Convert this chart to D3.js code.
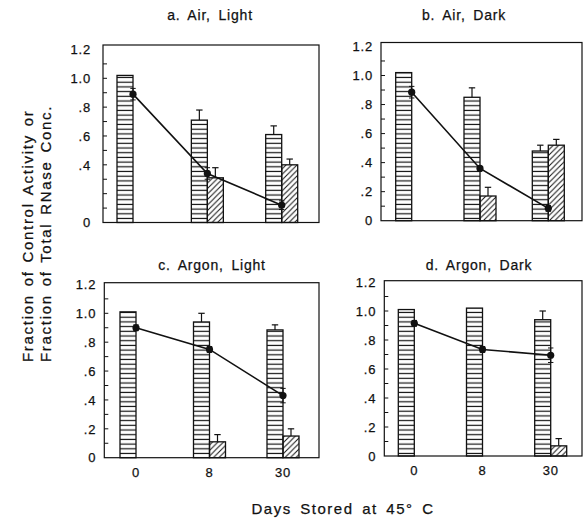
<!DOCTYPE html>
<html>
<head>
<meta charset="utf-8">
<script src="https://cdn.jsdelivr.net/npm/d3@7"></script>
<style>
  body { margin: 0; background: #fff; }
  svg { display: block; }
  text { font-family: "Liberation Sans", Arial, sans-serif; fill: #111; stroke: #111; stroke-width: 0.25px; }
</style>
</head>
<body>
<svg width="584" height="526"></svg>
<script>
// DATA

var days = ["0", "8", "30"];

var panelTitles = ["a. Air, Light", "b. Air, Dark", "c. Argon, Light", "d. Argon, Dark"];

// control activity (horizontal stripes)
var activityA = [1.02, 0.71, 0.61];
var activityB = [1.02, 0.85, 0.48];
var activityC = [1.01, 0.94, 0.885];
var activityD = [1.01, 1.02, 0.94];
var activityErrA = [0, 0.07, 0.06];
var activityErrB = [0, 0.065, 0.04];
var activityErrC = [0, 0.06, 0.035];
var activityErrD = [0, 0, 0.06];

// second activity series (diagonal hatch)
var hatchA = [0, 0.31, 0.40];
var hatchB = [0, 0.17, 0.52];
var hatchC = [0, 0.11, 0.15];
var hatchD = [0, 0, 0.07];
var hatchErrA = [0, 0.07, 0.04];
var hatchErrB = [0, 0.06, 0.04];
var hatchErrC = [0, 0.05, 0.05];
var hatchErrD = [0, 0, 0.05];

// total RNase conc. (dots + line)
var rnaseA = [0.89, 0.34, 0.12];
var rnaseB = [0.885, 0.36, 0.085];
var rnaseC = [0.90, 0.75, 0.43];
var rnaseD = [0.915, 0.735, 0.695];
var rnaseErrA = [0.04, 0.04, 0.03];
var rnaseErrB = [0.04, 0, 0.02];
var rnaseErrC = [0.02, 0.02, 0.05];
var rnaseErrD = [0.02, 0.02, 0.05];

var yTickValues = [0, 0.2, 0.4, 0.6, 0.8, 1.0, 1.2];
var yTickLabels = ["0", ".2", ".4", ".6", ".8", "1.0", "1.2"];
var yTickLabelsA = ["0", "", ".4", ".6", ".8", "1.0", "1.2"];

var yTitle1 = "Fraction of Control Activity or";
var yTitle2 = "Fraction of Total RNase Conc.";
var xTitle = "Days Stored at 45\u00B0 C";

// LAYOUT

var layout = [
  { left: 103,   right: 319, top: 45,    y0: 222.5, y1: 78.3,  x0: 133,   x1: 281.7, tx: 210, ty: 20,  gap: 12, xLabels: false },
  { left: 381,   right: 582, top: 42.5,  y0: 220.7, y1: 75.5,  x0: 411.7, x1: 548.3, tx: 464, ty: 20,  gap: 8,  xLabels: false },
  { left: 104.3, right: 319, top: 282.7, y0: 457.7, y1: 313.3, x0: 136,   x1: 283,   tx: 212, ty: 270, gap: 8,  xLabels: true },
  { left: 384.3, right: 582, top: 280.7, y0: 456,   y1: 311,   x0: 414.3, x1: 550.7, tx: 479, ty: 270, gap: 8,  xLabels: true }
];

var panelData = [
  { act: activityA, actErr: activityErrA, hat: hatchA, hatErr: hatchErrA, rna: rnaseA, rnaErr: rnaseErrA, ticks: yTickLabelsA },
  { act: activityB, actErr: activityErrB, hat: hatchB, hatErr: hatchErrB, rna: rnaseB, rnaErr: rnaseErrB, ticks: yTickLabels },
  { act: activityC, actErr: activityErrC, hat: hatchC, hatErr: hatchErrC, rna: rnaseC, rnaErr: rnaseErrC, ticks: yTickLabels },
  { act: activityD, actErr: activityErrD, hat: hatchD, hatErr: hatchErrD, rna: rnaseD, rnaErr: rnaseErrD, ticks: yTickLabels }
];

var barW = 16, capW = 3.2;

var svg = d3.select("svg");

// PATTERNS

var defs = svg.append("defs");

defs.append("pattern")
    .attr("id", "stripes")
    .attr("patternUnits", "userSpaceOnUse")
    .attr("width", 8).attr("height", 4.7)
  .append("line")
    .attr("x1", 0).attr("x2", 8)
    .attr("y1", 2.3).attr("y2", 2.3)
    .attr("stroke", "#111").attr("stroke-width", 1.2);

defs.append("pattern")
    .attr("id", "hatch")
    .attr("patternUnits", "userSpaceOnUse")
    .attr("width", 5.5).attr("height", 5.5)
  .append("path")
    .attr("d", "M-1,1 l2,-2 M0,5.5 l5.5,-5.5 M4.5,6.5 l2,-2")
    .attr("stroke", "#111").attr("stroke-width", 1);

// PANELS

panelData.forEach(function(pd, i) {
  var L = layout[i];

  var y = d3.scaleLinear().domain([0, 1]).range([L.y0, L.y1]);
  var x = d3.scalePoint().domain(days).range([L.x0, L.x1]);

  var g = svg.append("g").attr("class", "panel");

  // frame
  g.append("rect")
      .attr("x", L.left).attr("y", L.top)
      .attr("width", L.right - L.left).attr("height", L.y0 - L.top)
      .attr("fill", "none").attr("stroke", "#111").attr("stroke-width", 1.2);

  // minor inward ticks every .1
  g.selectAll("line.ytick")
    .data(d3.range(1, 12).map(function(k) { return k / 10; }))
    .enter().append("line")
      .attr("class", "ytick")
      .attr("x1", L.left).attr("x2", L.left + 4)
      .attr("y1", function(d) { return y(d); })
      .attr("y2", function(d) { return y(d); })
      .attr("stroke", "#111").attr("stroke-width", 1);

  // tick labels
  g.selectAll("text.ylab")
    .data(yTickValues)
    .enter().append("text")
      .attr("class", "ylab")
      .attr("x", L.left - L.gap)
      .attr("y", function(d) { return y(d); })
      .attr("dy", "0.36em")
      .attr("text-anchor", "end")
      .style("font-size", "13px")
      .style("letter-spacing", "0.8px")
      .text(function(d, k) { return pd.ticks[k]; });

  // title
  g.append("text")
      .attr("x", L.tx).attr("y", L.ty)
      .attr("text-anchor", "middle")
      .style("font-size", "14px")
      .style("letter-spacing", "0.8px")
      .style("word-spacing", "3px")
      .text(panelTitles[i]);

  // striped bars
  g.selectAll("rect.act")
    .data(pd.act)
    .enter().append("rect")
      .attr("class", "act")
      .attr("x", function(d, k) { return x(days[k]) - barW; })
      .attr("y", function(d) { return y(d); })
      .attr("width", barW)
      .attr("height", function(d) { return L.y0 - y(d); })
      .attr("fill", "url(#stripes)")
      .attr("stroke", "#111").attr("stroke-width", 1.3);

  // hatched bars
  g.selectAll("rect.hat")
    .data(pd.hat.map(function(d, k) { return { v: d, k: k }; })
                .filter(function(d) { return d.v > 0; }))
    .enter().append("rect")
      .attr("class", "hat")
      .attr("x", function(d) { return x(days[d.k]); })
      .attr("y", function(d) { return y(d.v); })
      .attr("width", barW)
      .attr("height", function(d) { return L.y0 - y(d.v); })
      .attr("fill", "url(#hatch)")
      .attr("stroke", "#111").attr("stroke-width", 1.3);

  // error bars (upward only) on bars
  function upErr(vals, errs, offset) {
    vals.forEach(function(v, k) {
      if (!errs[k] || v <= 0) return;
      var cx = x(days[k]) + offset;
      g.append("line")
          .attr("x1", cx).attr("x2", cx)
          .attr("y1", y(v)).attr("y2", y(v + errs[k]))
          .attr("stroke", "#111").attr("stroke-width", 1.2);
      g.append("line")
          .attr("x1", cx - capW).attr("x2", cx + capW)
          .attr("y1", y(v + errs[k])).attr("y2", y(v + errs[k]))
          .attr("stroke", "#111").attr("stroke-width", 1.2);
    });
  }
  upErr(pd.act, pd.actErr, -barW / 2);
  upErr(pd.hat, pd.hatErr, barW / 2);

  // rnase error bars
  pd.rna.forEach(function(v, k) {
    if (!pd.rnaErr[k]) return;
    var cx = x(days[k]);
    [v - pd.rnaErr[k], v + pd.rnaErr[k]].forEach(function(e) {
      g.append("line")
          .attr("x1", cx - capW + 0.5).attr("x2", cx + capW - 0.5)
          .attr("y1", y(e)).attr("y2", y(e))
          .attr("stroke", "#111").attr("stroke-width", 1);
    });
    g.append("line")
        .attr("x1", cx).attr("x2", cx)
        .attr("y1", y(v - pd.rnaErr[k])).attr("y2", y(v + pd.rnaErr[k]))
        .attr("stroke", "#111").attr("stroke-width", 1);
  });

  // rnase line
  var line = d3.line()
      .x(function(d, k) { return x(days[k]); })
      .y(function(d) { return y(d); });

  g.append("path")
      .datum(pd.rna)
      .attr("d", line)
      .attr("fill", "none")
      .attr("stroke", "#111").attr("stroke-width", 1.6);

  g.selectAll("circle.rna")
    .data(pd.rna)
    .enter().append("circle")
      .attr("class", "rna")
      .attr("cx", function(d, k) { return x(days[k]); })
      .attr("cy", function(d) { return y(d); })
      .attr("r", 3.6)
      .attr("fill", "#111");

  // x tick labels (bottom row only)
  if (L.xLabels) {
    g.selectAll("text.xlab")
      .data(days)
      .enter().append("text")
        .attr("class", "xlab")
        .attr("x", function(d) { return x(d); })
        .attr("y", L.y0 + 19)
        .attr("text-anchor", "middle")
        .style("font-size", "13px")
        .style("letter-spacing", "0.8px")
        .text(function(d) { return d; });
  }
});

// AXIS TITLES

svg.append("text")
    .attr("transform", "translate(33,362) rotate(-90)")
    .style("font-size", "15px")
    .style("letter-spacing", "1.7px")
    .style("word-spacing", "2px")
    .text(yTitle1);

svg.append("text")
    .attr("transform", "translate(51,362) rotate(-90)")
    .style("font-size", "15px")
    .style("letter-spacing", "1.7px")
    .style("word-spacing", "2px")
    .text(yTitle2);

svg.append("text")
    .attr("x", 343).attr("y", 514)
    .attr("text-anchor", "middle")
    .style("font-size", "15px")
    .style("letter-spacing", "1.5px")
    .style("word-spacing", "3px")
    .text(xTitle);
</script>
</body>
</html>
